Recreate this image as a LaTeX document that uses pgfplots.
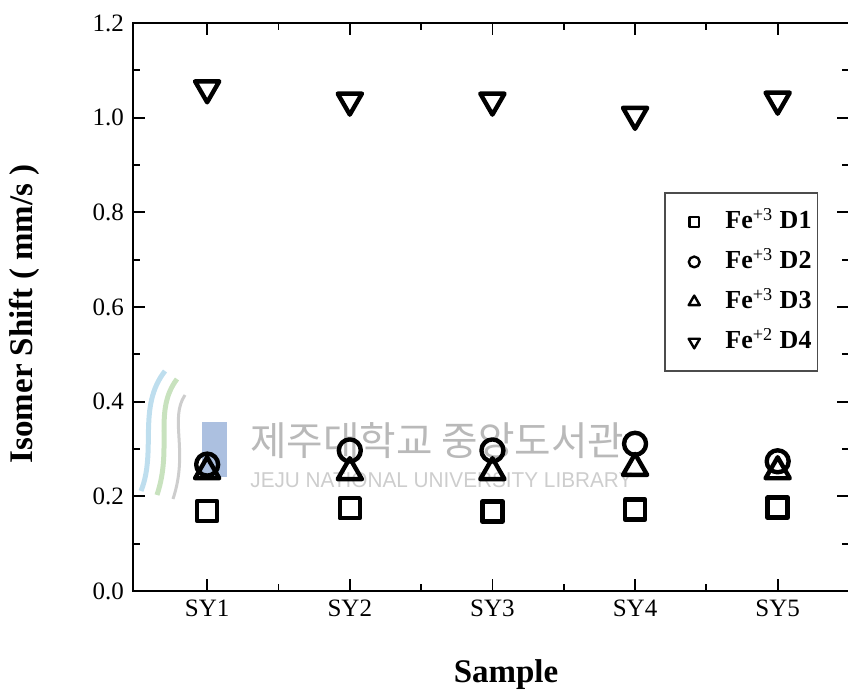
\documentclass[border=0pt]{standalone}
\usepackage{fontspec}
\setmainfont{Liberation Serif}
\newfontfamily\krfont{Noto Sans CJK KR}
\newfontfamily\wmfont{Liberation Sans}
\usepackage{graphicx}
\usepackage{pgfplots}
\pgfplotsset{compat=1.18}

\definecolor{wmgray}{RGB}{185,185,185}
\definecolor{wmlight}{RGB}{205,205,205}
\definecolor{wmblue}{RGB}{172,192,224}
\definecolor{wmsky}{RGB}{190,222,238}
\definecolor{wmgreen}{RGB}{200,226,190}

\begin{document}
\begin{tikzpicture}[x=1pt,y=1pt]
\useasboundingbox (-66.5,-52) rectangle (357.5,295.5);

% library watermark behind the data
\draw[line width=2.5pt, wmsky] (16,110) .. controls (2,92) and (12,70) .. (4,50);
\draw[line width=2.5pt, wmgreen] (22,106) .. controls (10,90) and (20,72) .. (12,48);
\draw[line width=1.5pt, wmlight] (26,98) .. controls (18,86) and (28,70) .. (20,46);
\fill[wmblue] (34.5,57) rectangle (47,84.5);
\node[anchor=west, inner sep=0pt, text=wmgray] at (58.5,75)
  {\resizebox{187pt}{!}{\krfont 제주대학교 중앙도서관}};
\node[anchor=base west, inner sep=0pt, text=wmlight] at (58.5,51.8)
  {\resizebox{191pt}{7.5pt}{\wmfont JEJU NATIONAL UNIVERSITY LIBRARY}};

\begin{axis}[
  at={(0,0)}, anchor=south west,
  width=358pt, height=284pt, scale only axis,
  xmin=0.48, xmax=5.5, ymin=0, ymax=1.2,
  axis line style={line width=1pt},
  every tick/.style={line width=0.9pt, black},
  tick align=inside,
  major tick length=6pt, minor tick length=3.5pt,
  xtick={1,2,3,4,5},
  xticklabels={SY1,SY2,SY3,SY4,SY5},
  minor xtick={1.5,2.5,3.5,4.5},
  ytick={0,0.2,0.4,0.6,0.8,1.0,1.2},
  minor ytick={0.1,0.3,0.5,0.7,0.9,1.1},
  yticklabel style={/pgf/number format/fixed, /pgf/number format/fixed zerofill,
    /pgf/number format/precision=1, xshift=-1pt},
  /pgf/number format/assume math mode=true,
  ticklabel style={font=\fontsize{12.5pt}{15pt}\selectfont},
  xticklabel style={yshift=-1pt},
  xlabel={\textbf{Sample}},
  ylabel={\textbf{Isomer Shift ( mm/s )}},
  label style={font=\fontsize{16.5pt}{20pt}\selectfont},
  xlabel style={at={(rel axis cs:0.521,0)}, anchor=base, yshift=-46pt},
  ylabel style={at={(rel axis cs:-0.151,0.488)}, anchor=center},
  every axis plot/.append style={only marks, black, line width=2.2pt, line join=round},
  legend style={at={(rel axis cs:0.957,0.702)}, anchor=north east,
    draw=black!70, line width=0.7pt, fill=white,
    font=\fontsize{13pt}{15pt}\selectfont\bfseries,
    inner xsep=2pt, inner ysep=8pt, row sep=7pt,
    nodes={inner xsep=1pt, inner ysep=0pt, text height=10pt, text depth=3pt}},
  legend cell align=left,
  legend image code/.code={\path (0pt,0pt) (26pt,0pt);
    \draw[#1] plot coordinates {(12pt,0pt)};},
]
% Fe+3 doublet D1
\addplot[only marks, black, mark=square, mark size=5pt,
  legend image post style={mark size=2.4pt, line width=1.2pt}]
  coordinates {(1,0.169) (2,0.175) (3,0.168) (4,0.172) (5,0.176)};
\addlegendentry{Fe\textsuperscript{\mdseries +3} D1}
% Fe+3 doublet D2
\addplot[only marks, black, mark=o, mark size=5.5pt,
  legend image post style={mark size=2.7pt, line width=1.2pt}]
  coordinates {(1,0.267) (2,0.297) (3,0.297) (4,0.311) (5,0.274)};
\addlegendentry{Fe\textsuperscript{\mdseries +3} D2}
% Fe+3 doublet D3
\addplot[only marks, black, mark=triangle, mark size=7pt,
  legend image post style={mark size=3.2pt, line width=1.2pt}]
  coordinates {(1,0.253) (2,0.251) (3,0.251) (4,0.260) (5,0.253)};
\addlegendentry{Fe\textsuperscript{\mdseries +3} D3}
% Fe+2 doublet D4
\addplot[only marks, black, mark=triangle, mark size=7pt, mark options={rotate=180},
  legend image post style={mark size=3.2pt, line width=1.2pt}]
  coordinates {(1,1.062) (2,1.036) (3,1.036) (4,1.006) (5,1.038)};
\addlegendentry{Fe\textsuperscript{\mdseries +2} D4}
\end{axis}
\end{tikzpicture}
\end{document}
